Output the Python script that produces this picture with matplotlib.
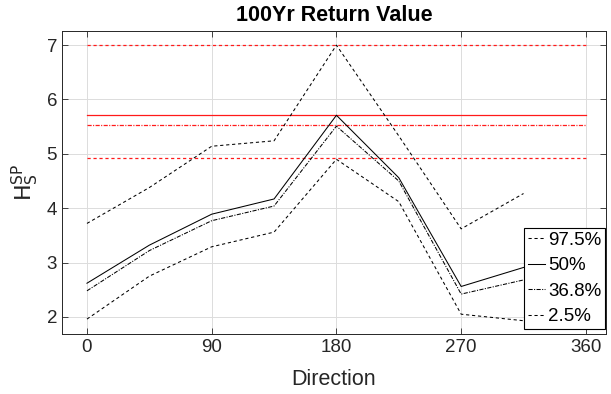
import numpy as np
import matplotlib
matplotlib.use("Agg")
import matplotlib.pyplot as plt

plt.rcParams['font.family'] = ['Liberation Sans', 'DejaVu Sans']
plt.rcParams['lines.scale_dashes'] = False

# directional return values at each percentile
direction = [0, 45, 90, 135, 180, 225, 270, 315]
p975 = [3.72, 4.38, 5.14, 5.24, 7.00, 5.33, 3.62, 4.27]
p50 = [2.62, 3.32, 3.89, 4.17, 5.71, 4.56, 2.56, 2.91]
p368 = [2.48, 3.22, 3.77, 4.04, 5.51, 4.50, 2.42, 2.68]
p025 = [1.96, 2.75, 3.29, 3.56, 4.90, 4.12, 2.05, 1.93]

# omnidirectional values
omni = [7.01, 5.72, 5.53, 4.92]

labels = ['97.5%', '50%', '36.8%', '2.5%']
dash = (0, (2.3, 2.0))
dashdot = (0, (3.0, 1.0, 0.8, 1.0))
styles = [dash, '-', dashdot, dash]

fig = plt.figure(figsize=(6.11, 3.94), dpi=100)
ax = fig.add_axes([0.1015, 0.1515, 0.8903, 0.7698])

for v, ls in zip(omni, styles):
    ax.plot([0, 360], [v, v], color='#ff1a1a', ls=ls, lw=0.9)

handles = []
for y, ls, lab in zip([p975, p50, p368, p025], styles, labels):
    h, = ax.plot(direction, y, color='black', ls=ls, lw=0.75, label=lab)
    handles.append(h)

ax.set_xlim(-18, 374.5)
ax.set_ylim(1.68, 7.26)
ax.set_xticks([0, 90, 180, 270, 360])
ax.set_yticks([2, 3, 4, 5, 6, 7])
ax.tick_params(direction='in', top=True, right=True, labelsize=13.5,
               colors='#262626', length=4, width=0.6)
ax.grid(True, color='#dcdcdc', lw=0.7)
for s in ax.spines.values():
    s.set_color('#262626')
    s.set_linewidth(0.7)

ax.set_title('100Yr Return Value', fontsize=15.5, fontweight='bold', pad=7)
ax.set_xlabel('Direction', fontsize=15.5, color='#262626', labelpad=9)
ax.set_ylabel(r'$\mathrm{H}_\mathrm{S}^\mathrm{SP}$', fontsize=16, color='#262626', labelpad=4)

leg = ax.legend(handles=handles, loc='lower right', bbox_to_anchor=(0.998, 0.0175),
                fontsize=13.5, handlelength=0.9, handletextpad=0.15, borderpad=0.2,
                labelspacing=0.45, borderaxespad=0, fancybox=False,
                framealpha=1, edgecolor='black')
leg.get_frame().set_linewidth(0.8)

fig.savefig('out.png', dpi=100)
